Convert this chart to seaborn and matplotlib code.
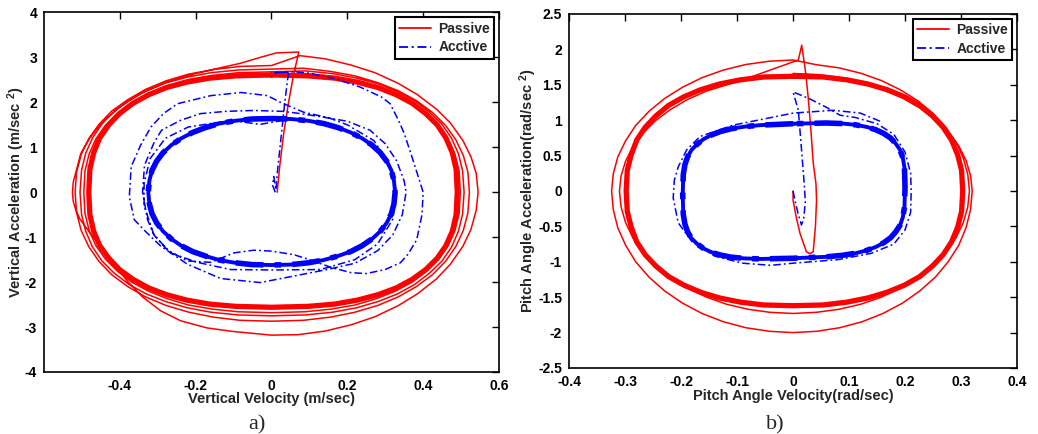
import matplotlib
matplotlib.use("Agg")
import matplotlib.pyplot as plt
from matplotlib.lines import Line2D
import seaborn as sns

# ---------------------------------------------------------------------------
# (a) vertical motion: velocity [m/s] vs acceleration [m/s^2]
# ---------------------------------------------------------------------------
# passive suspension: start-up kick and first (largest) orbit
a_passive_start_vel = [
    0.015, 0.022, 0.032, 0.045, 0.058, 0.072, 0.012,
    -0.030, -0.082, -0.140, -0.205, -0.280, -0.345, -0.400, -0.450, -0.480, -0.503, -0.516, -0.523, -0.525,
    -0.523, -0.516, -0.505, -0.475, -0.450, -0.415, -0.380, -0.340, -0.292, -0.240, -0.170, -0.100, 0.000,
    0.070, 0.141, 0.210, 0.273, 0.335, 0.385, 0.435, 0.472, 0.505, 0.526, 0.540, 0.545,
    0.540, 0.526, 0.505, 0.472, 0.435, 0.385, 0.335, 0.273, 0.210, 0.141, 0.075,
]
a_passive_start_acc = [
    0.00, 0.60, 1.30, 2.00, 2.60, 3.12, 3.10,
    3.00, 2.87, 2.76, 2.63, 2.44, 2.20, 1.90, 1.53, 1.20, 0.86, 0.45, 0.22, 0.00,
    -0.20, -0.40, -0.60, -0.95, -1.20, -1.60, -1.98, -2.33, -2.64, -2.86, -3.02, -3.10, -3.18,
    -3.17, -3.09, -2.95, -2.77, -2.52, -2.26, -1.93, -1.60, -1.20, -0.83, -0.40, 0.00,
    0.42, 0.79, 1.15, 1.54, 1.85, 2.17, 2.42, 2.66, 2.83, 2.97, 3.04,
]
# passive suspension: decaying orbits 2-4
a_passive_decay_vel = [
    0.000, -0.083, -0.153, -0.218, -0.278, -0.332, -0.379, -0.421, -0.455, -0.482, -0.502, -0.514,
    -0.518, -0.514, -0.502, -0.482, -0.455, -0.421, -0.379, -0.332, -0.278, -0.218, -0.153, -0.083,
    0.000, 0.084, 0.155, 0.220, 0.280, 0.334, 0.382, 0.424, 0.459, 0.486, 0.506, 0.518,
    0.522, 0.518, 0.506, 0.486, 0.459, 0.424, 0.382, 0.334, 0.280, 0.220, 0.155, 0.084,
    0.000, -0.089, -0.160, -0.223, -0.280, -0.331, -0.376, -0.415, -0.447, -0.472, -0.490, -0.501,
    -0.505, -0.501, -0.490, -0.472, -0.447, -0.415, -0.376, -0.331, -0.280, -0.223, -0.160, -0.089,
    0.000, 0.090, 0.161, 0.225, 0.282, 0.333, 0.378, 0.417, 0.450, 0.475, 0.493, 0.504,
    0.508, 0.504, 0.493, 0.475, 0.450, 0.417, 0.378, 0.333, 0.282, 0.225, 0.161, 0.090,
    0.000, -0.088, -0.157, -0.219, -0.275, -0.325, -0.369, -0.406, -0.438, -0.463, -0.481, -0.492,
    -0.495, -0.492, -0.481, -0.463, -0.438, -0.406, -0.369, -0.325, -0.275, -0.219, -0.157, -0.088,
    0.000, 0.088, 0.158, 0.220, 0.276, 0.327, 0.371, 0.409, 0.441, 0.466, 0.484, 0.495,
    0.498, 0.495, 0.484, 0.466, 0.441, 0.409, 0.371, 0.327, 0.276, 0.220, 0.158, 0.088,
    0.000,
]
a_passive_decay_acc = [
    2.82, 2.80, 2.73, 2.63, 2.48, 2.29, 2.06, 1.81, 1.51, 1.19, 0.84, 0.45,
    0.00, -0.46, -0.85, -1.21, -1.54, -1.84, -2.10, -2.33, -2.52, -2.67, -2.78, -2.85,
    -2.87, -2.85, -2.78, -2.67, -2.52, -2.33, -2.10, -1.84, -1.54, -1.21, -0.85, -0.46,
    0.00, 0.45, 0.82, 1.17, 1.49, 1.78, 2.04, 2.26, 2.44, 2.59, 2.69, 2.76,
    2.74, 2.72, 2.66, 2.56, 2.43, 2.25, 2.04, 1.80, 1.52, 1.21, 0.87, 0.49,
    0.00, -0.49, -0.87, -1.22, -1.53, -1.80, -2.05, -2.26, -2.43, -2.57, -2.67, -2.73,
    -2.75, -2.73, -2.67, -2.57, -2.43, -2.26, -2.05, -1.80, -1.53, -1.22, -0.87, -0.49,
    0.00, 0.48, 0.86, 1.20, 1.51, 1.78, 2.03, 2.23, 2.41, 2.54, 2.64, 2.70,
    2.68, 2.66, 2.60, 2.51, 2.37, 2.20, 2.00, 1.76, 1.49, 1.19, 0.85, 0.47,
    0.00, -0.47, -0.85, -1.19, -1.49, -1.76, -2.00, -2.20, -2.37, -2.51, -2.60, -2.66,
    -2.68, -2.66, -2.60, -2.51, -2.37, -2.20, -2.00, -1.76, -1.49, -1.19, -0.85, -0.47,
    0.00, 0.47, 0.84, 1.18, 1.48, 1.75, 1.98, 2.18, 2.35, 2.49, 2.58, 2.64,
    2.61,
]
# passive suspension: steady-state limit cycle
a_passive_cycle_vel = [
    0.000, -0.094, -0.163, -0.224, -0.277, -0.324, -0.365, -0.401, -0.429, -0.453, -0.469, -0.479,
    -0.482, -0.479, -0.469, -0.453, -0.429, -0.401, -0.365, -0.324, -0.277, -0.224, -0.163, -0.094,
    0.000, 0.096, 0.166, 0.227, 0.281, 0.329, 0.371, 0.407, 0.437, 0.460, 0.477, 0.487,
    0.490, 0.487, 0.477, 0.460, 0.437, 0.407, 0.371, 0.329, 0.281, 0.227, 0.166, 0.096,
    0.000,
]
a_passive_cycle_acc = [
    2.61, 2.59, 2.54, 2.45, 2.33, 2.17, 1.98, 1.75, 1.50, 1.21, 0.88, 0.51,
    0.00, -0.50, -0.87, -1.19, -1.47, -1.72, -1.94, -2.13, -2.28, -2.40, -2.49, -2.54,
    -2.56, -2.54, -2.49, -2.40, -2.28, -2.13, -1.94, -1.72, -1.47, -1.19, -0.87, -0.50,
    0.00, 0.51, 0.88, 1.21, 1.50, 1.75, 1.98, 2.17, 2.33, 2.45, 2.54, 2.59,
    2.61,
]
# active suspension: start-up transient
a_active_vel = [
    0.010, 0.003, 0.006, 0.012, 0.015, 0.025, 0.035, 0.045, 0.005, 0.060, 0.100,
    0.170, 0.234, 0.290, 0.313, 0.335, 0.350, 0.370, 0.390, 0.400,
    0.397, 0.383, 0.360, 0.340, 0.300, 0.250, 0.210, 0.160, 0.100, 0.059, 0.000,
    -0.047, -0.099, -0.160, -0.222, -0.275, -0.310, -0.327, -0.340,
    -0.335, -0.310, -0.290, -0.240, -0.187, -0.120, -0.047, 0.030, 0.076, 0.130,
    0.200, 0.260, 0.300, 0.330, 0.350, 0.355, 0.345, 0.320, 0.280, 0.220, 0.147,
    0.050, -0.030, -0.134, -0.222, -0.292, -0.335, -0.362, -0.375,
    -0.370, -0.345, -0.318, -0.285, -0.248, -0.160, -0.080, -0.011, 0.024, 0.085, 0.150,
    0.200, 0.270, 0.310, 0.330, 0.320, 0.280, 0.220, 0.129, 0.000,
    -0.108, -0.196, -0.266, -0.310, -0.336, -0.336, -0.320, -0.280, -0.220,
    -0.108, -0.030, 0.050,
]
a_active_acc = [
    0.00, 0.15, 0.35, 0.05, 0.40, 1.20, 2.00, 2.68, 2.66, 2.68, 2.65,
    2.52, 2.34, 2.12, 1.97, 1.60, 1.31, 0.80, 0.27, 0.00,
    -0.50, -1.06, -1.38, -1.57, -1.72, -1.81, -1.79, -1.68, -1.50, -1.39, -1.31,
    -1.29, -1.35, -1.56, -1.53, -1.28, -0.95, -0.61, 0.00,
    0.60, 1.10, 1.38, 1.60, 1.75, 1.80, 1.82, 1.80, 1.75, 1.68,
    1.58, 1.38, 1.08, 0.70, 0.25, 0.00, -0.50, -0.95, -1.30, -1.58, -1.72,
    -1.88, -2.01, -1.92, -1.60, -1.20, -0.85, -0.61, -0.10,
    0.57, 1.05, 1.45, 1.75, 1.97, 2.15, 2.22, 2.15, 2.00, 1.78, 1.66,
    1.50, 1.15, 0.65, 0.00, -0.60, -1.15, -1.50, -1.72, -1.73,
    -1.72, -1.56, -1.35, -0.95, -0.30, 0.20, 0.75, 1.20, 1.45,
    1.60, 1.51, 1.63,
]
# active suspension: steady-state limit cycle
a_active_cycle_vel = [
    0.000, -0.052, -0.096, -0.137, -0.174, -0.208, -0.238, -0.264, -0.286, -0.303, -0.315, -0.322,
    -0.325, -0.322, -0.315, -0.303, -0.286, -0.264, -0.238, -0.208, -0.174, -0.137, -0.096, -0.052,
    0.000, 0.052, 0.097, 0.137, 0.175, 0.209, 0.239, 0.265, 0.287, 0.304, 0.316, 0.323,
    0.326, 0.323, 0.316, 0.304, 0.287, 0.265, 0.239, 0.209, 0.175, 0.137, 0.097, 0.052,
    0.000,
]
a_active_cycle_acc = [
    1.64, 1.63, 1.59, 1.53, 1.44, 1.33, 1.20, 1.05, 0.88, 0.69, 0.49, 0.26,
    0.00, -0.26, -0.48, -0.68, -0.87, -1.04, -1.19, -1.32, -1.42, -1.51, -1.57, -1.61,
    -1.62, -1.61, -1.57, -1.51, -1.42, -1.32, -1.19, -1.04, -0.87, -0.68, -0.48, -0.26,
    0.00, 0.26, 0.49, 0.69, 0.88, 1.05, 1.20, 1.33, 1.44, 1.53, 1.59, 1.63,
    1.64,
]

# ---------------------------------------------------------------------------
# (b) pitch motion: angular velocity [rad/s] vs angular acceleration [rad/s^2]
# ---------------------------------------------------------------------------
b_passive_vel = [
    0.000, 0.000, 0.006, 0.0125, 0.024, 0.030, 0.036, 0.040, 0.042, 0.041, 0.036,
    0.032, 0.027, 0.022, 0.0155, 0.0095, -0.040, -0.089, -0.155,
    -0.189, -0.219, -0.246, -0.268, -0.286, -0.299, -0.307,
    -0.310, -0.307, -0.299, -0.286, -0.268, -0.246, -0.219, -0.189, -0.155, -0.119, -0.080, -0.041,
    0.000, 0.041, 0.082, 0.121, 0.158, 0.192, 0.223, 0.250, 0.273, 0.291, 0.304, 0.312,
    0.315, 0.312, 0.304, 0.291, 0.273, 0.250, 0.223, 0.192, 0.158, 0.121, 0.082, 0.041,
    0.000, -0.042, -0.084, -0.124, -0.162, -0.197, -0.229, -0.257, -0.281, -0.299, -0.313, -0.321,
    -0.324, -0.321, -0.313, -0.299, -0.281, -0.257, -0.229, -0.197, -0.162, -0.124, -0.084, -0.042,
    0.000, 0.042, 0.083, 0.123, 0.160, 0.195, 0.226, 0.254, 0.277, 0.296, 0.309, 0.317,
    0.320, 0.317, 0.309, 0.296, 0.277, 0.254, 0.226, 0.195, 0.160, 0.123, 0.083, 0.042,
    0.000,
]
b_passive_acc = [
    0.00, -0.13, -0.38, -0.60, -0.86, -0.885, -0.86, -0.50, -0.13, 0.10, 0.40,
    0.85, 1.33, 1.70, 2.06, 1.85, 1.71, 1.57, 1.41,
    1.29, 1.15, 0.99, 0.815, 0.624, 0.422, 0.214,
    0.000, -0.227, -0.448, -0.663, -0.865, -1.054, -1.223, -1.372, -1.498, -1.599, -1.671, -1.714,
    -1.730, -1.714, -1.671, -1.599, -1.498, -1.372, -1.223, -1.054, -0.865, -0.663, -0.448, -0.227,
    0.000, 0.236, 0.466, 0.689, 0.900, 1.096, 1.273, 1.427, 1.559, 1.663, 1.739, 1.784,
    1.850, 1.833, 1.787, 1.709, 1.602, 1.467, 1.308, 1.127, 0.925, 0.709, 0.479, 0.242,
    0.000, -0.262, -0.518, -0.766, -1.000, -1.218, -1.414, -1.586, -1.732, -1.848, -1.932, -1.982,
    -2.000, -1.982, -1.932, -1.848, -1.732, -1.586, -1.414, -1.218, -1.000, -0.766, -0.518, -0.262,
    0.000, 0.217, 0.430, 0.636, 0.830, 1.011, 1.174, 1.316, 1.438, 1.534, 1.604, 1.645,
    1.660,
]
b_passive_cycle_vel = [
    0.000, -0.053, -0.094, -0.132, -0.165, -0.195, -0.222, -0.245, -0.264, -0.279, -0.289, -0.296,
    -0.298, -0.296, -0.289, -0.279, -0.264, -0.245, -0.222, -0.195, -0.165, -0.132, -0.094, -0.053,
    0.000, 0.054, 0.096, 0.134, 0.168, 0.199, 0.226, 0.249, 0.268, 0.283, 0.294, 0.301,
    0.303, 0.301, 0.294, 0.283, 0.268, 0.249, 0.226, 0.199, 0.168, 0.134, 0.096, 0.054,
    0.000,
]
b_passive_cycle_acc = [
    1.62, 1.61, 1.57, 1.51, 1.43, 1.33, 1.21, 1.06, 0.90, 0.72, 0.51, 0.29,
    0.00, -0.29, -0.51, -0.72, -0.90, -1.06, -1.21, -1.33, -1.43, -1.51, -1.57, -1.61,
    -1.62, -1.61, -1.57, -1.51, -1.43, -1.33, -1.21, -1.06, -0.90, -0.72, -0.51, -0.29,
    0.00, 0.29, 0.51, 0.72, 0.90, 1.06, 1.21, 1.33, 1.43, 1.51, 1.57, 1.61,
    1.62,
]
b_active_vel = [
    0.000, 0.004, 0.009, 0.015, 0.019, 0.022, 0.020, 0.018, 0.014, 0.0095, 0.000,
    0.030, 0.060, 0.084, 0.110, 0.150, 0.180, 0.200, 0.210, 0.211, 0.210, 0.200,
    0.180, 0.140, 0.080, 0.000, -0.040, -0.090, -0.140, -0.180, -0.205, -0.214,
    -0.212, -0.205, -0.190, -0.166, -0.107, -0.050, 0.000, 0.072, 0.120, 0.160,
]
b_active_acc = [
    0.00, -0.15, -0.32, -0.48, -0.40, -0.15, 0.10, 0.30, 0.70, 1.14, 1.40,
    1.30, 1.18, 1.07, 1.04, 0.95, 0.80, 0.55, 0.25, 0.00, -0.30, -0.55,
    -0.75, -0.88, -0.97, -1.02, -1.05, -1.02, -0.92, -0.72, -0.45, -0.10,
    0.15, 0.34, 0.58, 0.77, 0.93, 1.02, 1.10, 1.14, 1.10, 0.97,
]
b_active_cycle_vel = [
    0.000, -0.058, -0.0875, -0.111, -0.130, -0.146, -0.160, -0.171, -0.181, -0.188, -0.193, -0.196,
    -0.197, -0.196, -0.193, -0.188, -0.181, -0.171, -0.160, -0.146, -0.130, -0.111, -0.0875, -0.058,
    0.000, 0.059, 0.089, 0.112, 0.132, 0.148, 0.162, 0.174, 0.183, 0.191, 0.196, 0.199,
    0.200, 0.199, 0.196, 0.191, 0.183, 0.174, 0.162, 0.148, 0.132, 0.112, 0.089, 0.059,
    0.000,
]
b_active_cycle_acc = [
    0.950, 0.930, 0.908, 0.878, 0.839, 0.790, 0.731, 0.662, 0.582, 0.487, 0.374, 0.231,
    -0.049, -0.329, -0.470, -0.581, -0.672, -0.748, -0.811, -0.864, -0.904, -0.934, -0.952, -0.960,
    -0.950, -0.930, -0.908, -0.878, -0.838, -0.790, -0.731, -0.662, -0.581, -0.486, -0.373, -0.230,
    0.050, 0.330, 0.471, 0.582, 0.673, 0.749, 0.812, 0.864, 0.904, 0.934, 0.952, 0.960,
    0.950,
]

# axis ticks and labels
a_xticks = [-0.4, -0.2, 0.0, 0.2, 0.4, 0.6]
a_xticklabels = ["-0.4", "-0.2", "0", "0.2", "0.4", "0.6"]
a_yticks = [-4, -3, -2, -1, 0, 1, 2, 3, 4]
a_yticklabels = ["-4", "-3", "-2", "-1", "0", "1", "2", "3", "4"]
b_xticks = [-0.4, -0.3, -0.2, -0.1, 0.0, 0.1, 0.2, 0.3, 0.4]
b_xticklabels = ["-0.4", "-0.3", "-0.2", "-0.1", "0", "0.1", "0.2", "0.3", "0.4"]
b_yticks = [-2.5, -2.0, -1.5, -1.0, -0.5, 0.0, 0.5, 1.0, 1.5, 2.0, 2.5]
b_yticklabels = ["-2.5", "-2", "-1.5", "-1", "-0.5", "0", "0.5", "1", "1.5", "2", "2.5"]
series_names = ["Passive", "Acctive"]

# ---------------------------------------------------------------------------
sns.set_style("white")
plt.rcParams["font.family"] = ["Liberation Sans", "DejaVu Sans"]
plt.rcParams["font.weight"] = "bold"
plt.rcParams["mathtext.fontset"] = "custom"
plt.rcParams["mathtext.rm"] = "Liberation Sans:bold"
plt.rcParams["mathtext.it"] = "Liberation Sans:bold"
plt.rcParams["mathtext.bf"] = "Liberation Sans:bold"

RED = "#ff0000"
BLUE = "#0000ff"
DASHDOT = (0, (5.0, 2.0, 1.2, 2.0))

fig = plt.figure(figsize=(10.38, 4.34), dpi=100)
ax_a = fig.add_axes([0.0424, 0.1429, 0.4383, 0.8283])
ax_b = fig.add_axes([0.5482, 0.1521, 0.4316, 0.8157])


def trace(ax, xs, ys, color, lw, ls="-"):
    sns.lineplot(x=xs, y=ys, sort=False, estimator=None, color=color,
                 linewidth=lw, linestyle=ls, ax=ax, legend=False)


# (a)
trace(ax_a, a_passive_start_vel + a_passive_decay_vel,
      a_passive_start_acc + a_passive_decay_acc, RED, 1.1)
trace(ax_a, a_passive_cycle_vel, a_passive_cycle_acc, RED, 3.8)
trace(ax_a, a_active_vel, a_active_acc, BLUE, 1.1, DASHDOT)
trace(ax_a, a_active_cycle_vel, a_active_cycle_acc, BLUE, 2.8)
trace(ax_a, a_active_cycle_vel, a_active_cycle_acc, BLUE, 4.0, DASHDOT)

# (b)
trace(ax_b, b_passive_vel, b_passive_acc, RED, 1.1)
trace(ax_b, b_passive_cycle_vel, b_passive_cycle_acc, RED, 3.8)
trace(ax_b, b_active_vel, b_active_acc, BLUE, 1.1, DASHDOT)
trace(ax_b, b_active_cycle_vel, b_active_cycle_acc, BLUE, 2.8)
trace(ax_b, b_active_cycle_vel, b_active_cycle_acc, BLUE, 4.0, DASHDOT)

ax_a.set_xlim(-0.6, 0.6)
ax_a.set_ylim(-4, 4)
ax_a.set_xticks(a_xticks, a_xticklabels)
ax_a.set_yticks(a_yticks, a_yticklabels)
ax_b.set_xlim(-0.4, 0.4)
ax_b.set_ylim(-2.5, 2.5)
ax_b.set_xticks(b_xticks, b_xticklabels)
ax_b.set_yticks(b_yticks, b_yticklabels)

ax_a.set_xlabel("Vertical Velocity (m/sec)", fontsize=10.5, fontweight="bold")
ax_a.set_ylabel(r"Vertical Acceleration (m/sec $^{2}$)", fontsize=10.5, fontweight="bold")
ax_b.set_xlabel("Pitch Angle Velocity(rad/sec)", fontsize=10.5, fontweight="bold")
ax_b.set_ylabel(r"Pitch Angle Acceleration(rad/sec $^{2}$)", fontsize=10.5, fontweight="bold")
ax_a.xaxis.label.set_va("center")
ax_b.xaxis.label.set_va("center")
ax_a.xaxis.set_label_coords(0.5, -0.075)
ax_b.xaxis.set_label_coords(0.5, -0.079)
ax_a.yaxis.label.set_va("center")
ax_b.yaxis.label.set_va("center")
ax_a.yaxis.set_label_coords(-0.062, 0.5)
ax_b.yaxis.set_label_coords(-0.092, 0.5)

handles = [Line2D([], [], color=RED, lw=1.3),
           Line2D([], [], color=BLUE, lw=1.3, linestyle=DASHDOT)]
for ax in (ax_a, ax_b):
    ax.tick_params(direction="in", top=True, right=True, length=5, width=1,
                   labelsize=10, pad=5, colors="black")
    for sp in ax.spines.values():
        sp.set_visible(True)
        sp.set_color("black")
        sp.set_linewidth(1.2)
    for lab in ax.get_xticklabels() + ax.get_yticklabels():
        lab.set_fontweight("bold")
    leg = ax.legend(handles, series_names, loc="upper right",
                    frameon=True, fancybox=False, borderaxespad=0.35,
                    handlelength=2.3, handletextpad=0.5, labelspacing=0.35,
                    borderpad=0.3, prop={"weight": "bold", "size": 10})
    leg.get_frame().set_edgecolor("black")
    leg.get_frame().set_linewidth(1.5)
    leg.get_frame().set_alpha(1.0)

fig.text(0.2476, 0.021, "a)", fontsize=16, family=["Liberation Serif", "DejaVu Serif"],
         fontweight="normal", ha="center", va="center")
fig.text(0.7466, 0.021, "b)", fontsize=16, family=["Liberation Serif", "DejaVu Serif"],
         fontweight="normal", ha="center", va="center")

fig.savefig("out.png", dpi=100)
